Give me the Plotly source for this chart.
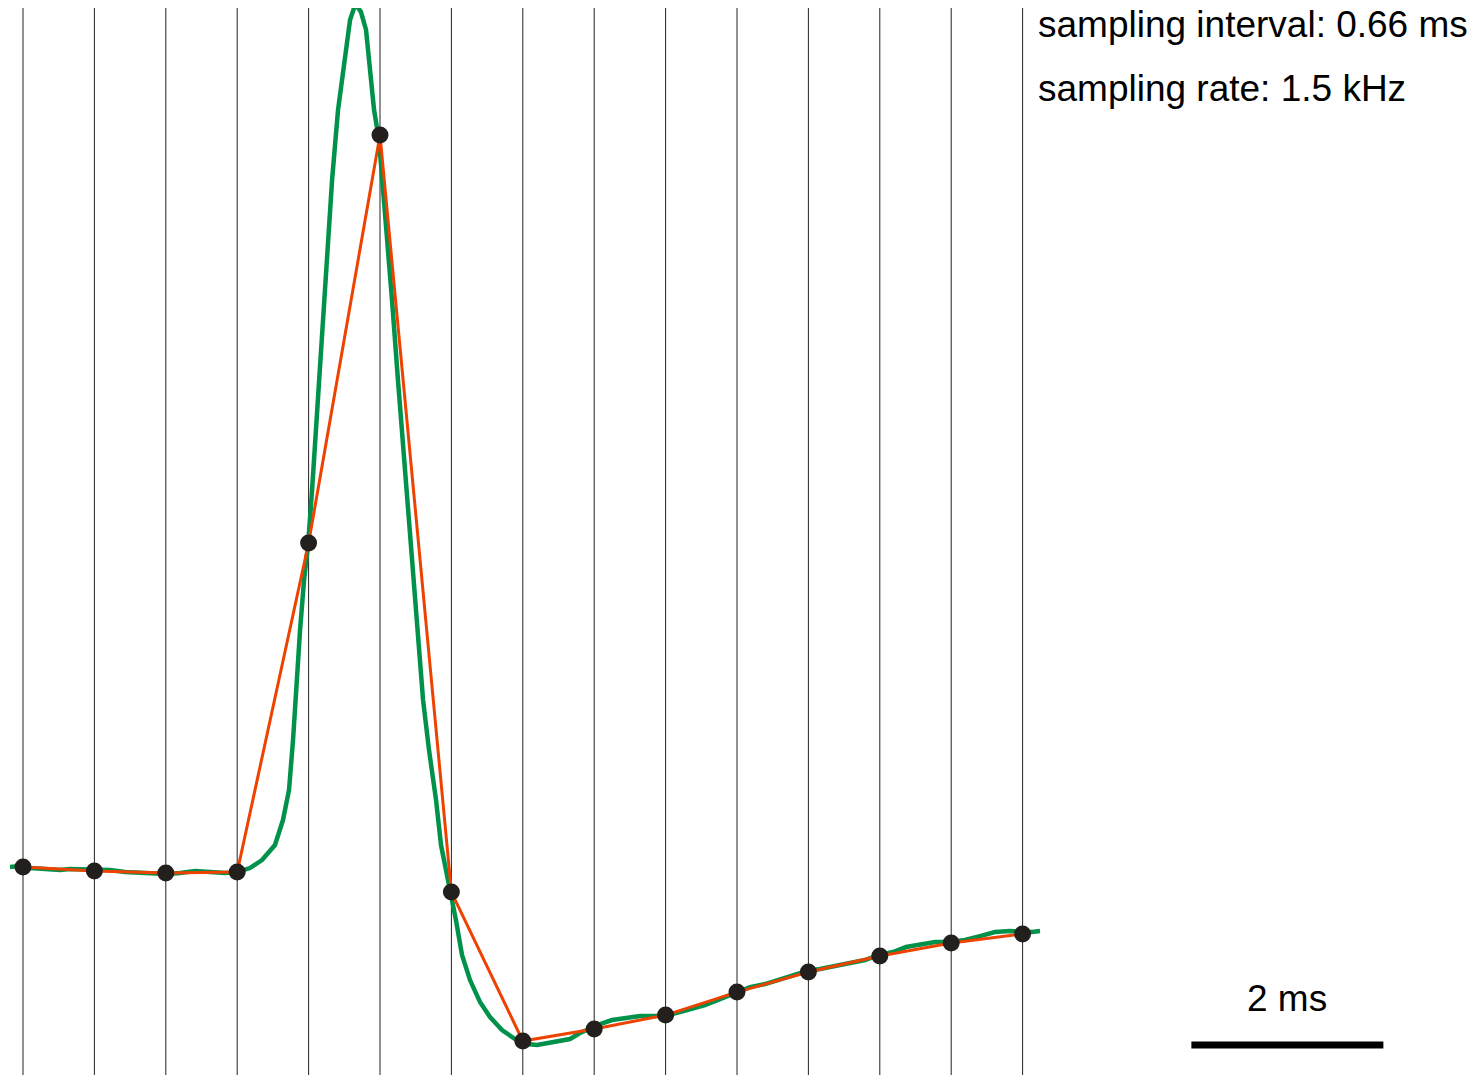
import plotly.graph_objects as go

# Sampled points (ms, mV)
sample_t = [0.00, 0.66, 1.32, 1.98, 2.64, 3.30, 3.96, 4.62, 5.28, 5.94, 6.60, 7.26, 7.92, 8.58, 9.24]
sample_v = [-64.65, -65.12, -65.35, -65.23, -27.17, 20.04, -67.55, -84.78, -83.40, -81.78,
            -79.12, -76.80, -74.95, -73.45, -72.40]

# Continuous recording (ms, mV)
trace_t = [-0.120, -0.028, 0.065, 0.203, 0.342, 0.434, 0.527, 0.656, 0.804, 0.943, 1.081, 1.220,
           1.322, 1.452, 1.590, 1.729, 1.867, 1.978, 2.098, 2.209, 2.329, 2.403, 2.459, 2.496,
           2.524, 2.561, 2.598, 2.635, 2.672, 2.727, 2.792, 2.857, 2.912, 2.968, 3.023, 3.060,
           3.088, 3.124, 3.171, 3.208, 3.245, 3.291, 3.346, 3.411, 3.466, 3.522, 3.577, 3.633,
           3.698, 3.753, 3.818, 3.864, 3.919, 3.956, 4.002, 4.058, 4.132, 4.224, 4.317, 4.428,
           4.548, 4.659, 4.751, 4.853, 4.964, 5.056, 5.149, 5.241, 5.334, 5.445, 5.565, 5.704,
           5.842, 5.962, 6.073, 6.166, 6.304, 6.443, 6.591, 6.721, 6.859, 6.998, 7.136, 7.247,
           7.367, 7.506, 7.645, 7.783, 7.913, 8.042, 8.162, 8.292, 8.431, 8.569, 8.708, 8.846,
           8.985, 9.124, 9.225, 9.327, 9.401]
trace_v = [-64.65, -64.54, -64.77, -64.88, -65.00, -64.88, -64.88, -65.00, -65.00, -65.23, -65.35, -65.35,
           -65.46, -65.35, -65.12, -65.23, -65.35, -65.23, -64.77, -63.84, -62.11, -59.22, -55.74, -49.96,
           -44.17, -37.23, -31.45, -27.40, -21.03, -10.62, 3.26, 14.83, 22.93, 28.72, 33.35, 34.73,
           34.96, 34.27, 32.19, 27.56, 22.93, 19.46, 11.36, 0.95, -8.31, -17.56, -26.82, -36.08,
           -45.33, -51.12, -56.90, -62.11, -65.58, -67.55, -70.79, -74.83, -77.73, -80.27, -82.01, -83.51,
           -84.55, -85.13, -85.25, -85.02, -84.78, -84.55, -83.86, -83.28, -82.82, -82.36, -82.12, -81.89,
           -81.89, -81.78, -81.43, -81.08, -80.62, -79.93, -79.12, -78.54, -78.19, -77.61, -77.15, -76.69,
           -76.45, -76.11, -75.64, -75.41, -74.83, -74.49, -73.91, -73.68, -73.33, -73.33, -73.10, -72.64,
           -72.17, -72.06, -72.17, -72.17, -72.06]

info_lines = ["sampling interval: 0.66 ms", "sampling rate: 1.5 kHz"]
scale_label = "2 ms"
scale_start = 10.80
scale_len = 1.775
scale_y = -85.25

X_RANGE = [-0.1387, 13.542]
Y_RANGE = [-89.64, 34.73]

W, H = 1480, 1075
OFF = 8  # page body margin
FONT = dict(family="Liberation Sans, Arial", size=37, color="black")

fig = go.Figure()

# vertical sampling lines
for t in sample_t:
    fig.add_shape(type="line", x0=t, x1=t, xref="x", yref="paper", y0=0, y1=1,
                  line=dict(color="#222222", width=1), layer="below")

fig.add_trace(go.Scatter(x=trace_t, y=trace_v, mode="lines",
                         line=dict(color="#00924A", width=4.5), hoverinfo="skip"))
fig.add_trace(go.Scatter(x=sample_t, y=sample_v, mode="lines",
                         line=dict(color="#EE4200", width=3), hoverinfo="skip"))
fig.add_trace(go.Scatter(x=sample_t, y=sample_v, mode="markers",
                         marker=dict(color="#231F1D", size=17), hoverinfo="skip"))

# scale bar
fig.add_shape(type="line", x0=scale_start, x1=scale_start + scale_len, y0=scale_y, y1=scale_y,
              xref="x", yref="y", line=dict(color="black", width=7))
fig.add_annotation(x=scale_start + scale_len / 2, y=1 - (998 - OFF) / H, xref="x", yref="paper",
                   text=scale_label, showarrow=False, xanchor="center", yanchor="middle",
                   font=FONT)

for i, line in enumerate(info_lines):
    fig.add_annotation(x=(1036 - OFF) / W, y=1 - (24 + 65 * i - OFF) / H, xref="paper", yref="paper",
                       text=line, showarrow=False, xanchor="left", yanchor="middle",
                       font=FONT)

fig.update_layout(
    width=W, height=H,
    margin=dict(l=0, r=0, t=0, b=0),
    paper_bgcolor="white", plot_bgcolor="white",
    showlegend=False,
    xaxis=dict(range=X_RANGE, visible=False, showgrid=False, zeroline=False),
    yaxis=dict(range=Y_RANGE, visible=False, showgrid=False, zeroline=False),
)

fig.write_html("out.html")
